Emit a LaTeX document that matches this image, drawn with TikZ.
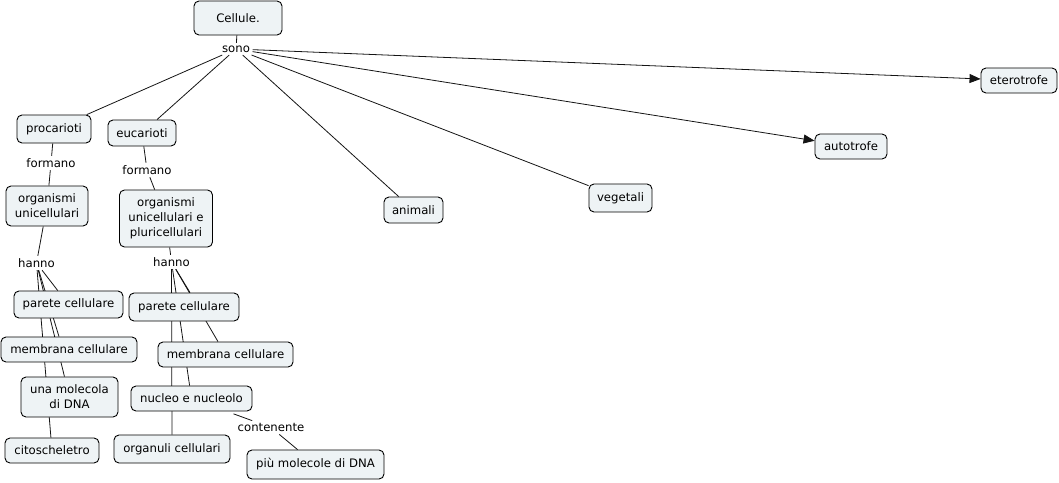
\documentclass[tikz,border=0pt]{standalone}
\usepackage{fontspec}
\setmainfont{DejaVu Sans}
\usetikzlibrary{arrows.meta,backgrounds}
\definecolor{boxfill}{RGB}{238,243,245}
\definecolor{linecol}{RGB}{20,20,20}
\tikzset{
  concept/.style={draw=black, line width=0.9pt, fill=boxfill, rounded corners=5pt,
    inner sep=0pt, align=center, font=\fontsize{11.7}{15}\selectfont},
  linklabel/.style={inner sep=2.5pt, align=center, font=\fontsize{11.7}{15}\selectfont},
  conn/.style={draw=linecol, line width=0.8pt},
  arr/.style={conn, -{Triangle[length=11pt,width=9pt]}}
}
\begin{document}
\begin{tikzpicture}[x=1pt,y=-1pt]
\useasboundingbox (0,0) rectangle (1059,482);
% concepts
\node[concept, minimum width=88pt, minimum height=34pt] (cell) at (238,18) {Cellule.};
\node[concept, minimum width=76pt, minimum height=25pt] (eter) at (1019,80.5) {eterotrofe};
\node[concept, minimum width=72pt, minimum height=25pt] (auto) at (851,146.5) {autotrofe};
\node[concept, minimum width=74pt, minimum height=28pt] (proc) at (54,129) {procarioti};
\node[concept, minimum width=68pt, minimum height=26pt] (euc) at (142,133) {eucarioti};
\node[concept, minimum width=82pt, minimum height=40pt] (orguni) at (47,206) {organismi\\unicellulari};
\node[concept, minimum width=93pt, minimum height=57pt] (orgpluri) at (166,218.5) {organismi\\unicellulari e\\pluricellulari};
\node[concept, minimum width=59pt, minimum height=26pt] (anim) at (413.5,210) {animali};
\node[concept, minimum width=63pt, minimum height=28pt] (veg) at (620.5,198) {vegetali};
\node[concept, minimum width=109pt, minimum height=27pt] (parP) at (68.5,304.5) {parete cellulare};
\node[concept, minimum width=110pt, minimum height=28pt] (parE) at (184,307) {parete cellulare};
\node[concept, minimum width=136pt, minimum height=25pt] (memP) at (69,349.5) {membrana cellulare};
\node[concept, minimum width=135pt, minimum height=25pt] (memE) at (225.5,354.5) {membrana cellulare};
\node[concept, minimum width=97pt, minimum height=40pt] (molec) at (69.5,397) {una molecola\\di DNA};
\node[concept, minimum width=121pt, minimum height=25pt] (nucl) at (191.5,398.5) {nucleo e nucleolo};
\node[concept, minimum width=94pt, minimum height=25pt] (cito) at (52,450.5) {citoscheletro};
\node[concept, minimum width=116pt, minimum height=28pt] (organuli) at (172,449) {organuli cellulari};
\node[concept, minimum width=137pt, minimum height=29pt] (piu) at (315.5,464.5) {più molecole di DNA};
% link labels
\node[linklabel] (sono) at (236,49) {sono};
\node[linklabel] (formP) at (51,163) {formano};
\node[linklabel] (formE) at (147,170) {formano};
\node[linklabel] (hannoP) at (36.5,263) {hanno};
\node[linklabel] (hannoE) at (171.5,262) {hanno};
\node[linklabel] (cont) at (271,427.5) {contenente};
% connectors behind the boxes
\begin{pgfonlayer}{background}
\draw[conn] (cell) -- (sono);
\draw[conn] (sono) -- (proc);
\draw[conn] (sono) -- (euc);
\draw[conn] (sono) -- (anim);
\draw[conn] (sono) -- (veg);
\draw[arr] (sono) -- (auto);
\draw[arr] (sono) -- (eter);
\draw[conn] (proc) -- (formP);
\draw[conn] (formP) -- (orguni);
\draw[conn] (euc) -- (formE);
\draw[conn] (formE) -- (orgpluri);
\draw[conn] (orguni) -- (hannoP);
\draw[conn] (orgpluri) -- (hannoE);
\draw[conn] (hannoP) -- (parP);
\draw[conn] (hannoP) -- ([xshift=-10pt]memP.north);
\draw[conn] (hannoP) -- (molec);
\draw[conn] (hannoP) -- (cito);
\draw[conn] (hannoE) -- ([xshift=6pt]parE.north);
\draw[conn] (hannoE) -- (memE);
\draw[conn] (hannoE) -- (nucl);
\draw[conn] (hannoE) -- (organuli);
\draw[conn, shorten <=7pt] (nucl) -- (cont);
\draw[conn] (cont) -- (piu);
\end{pgfonlayer}
\end{tikzpicture}
\end{document}
